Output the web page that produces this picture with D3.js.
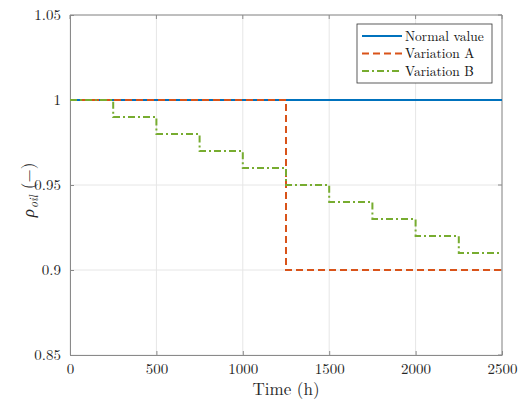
<!DOCTYPE html>
<html><head><meta charset="utf-8">
<script src="https://cdn.jsdelivr.net/npm/d3@7"></script>
<style>body{margin:0;background:#fff}svg{display:block}text{font-family:"Latin Modern Roman","CMU Serif","Liberation Serif","DejaVu Serif",serif}</style>
</head><body><svg id="c" width="520" height="400"></svg>
<script>
const timeNormal = [0, 2500];
const valNormal = [1, 1];
const timeA = [0, 1250, 2500];
const valA = [1, 0.9, 0.9];
const timeB = [0, 250, 500, 750, 1000, 1250, 1500, 1750, 2000, 2250, 2500];
const valB = [1, 0.99, 0.98, 0.97, 0.96, 0.95, 0.94, 0.93, 0.92, 0.91, 0.91];
const xTicks = [0, 500, 1000, 1500, 2000, 2500];
const yTicks = [0.85, 0.9, 0.95, 1, 1.05];
const yTickLabels = ["0.85", "0.9", "0.95", "1", "1.05"];
const seriesNames = ["Normal value", "Variation A", "Variation B"];

const svg = d3.select("#c");
const L = 70, R = 502, T = 15, B = 355;
const x = d3.scaleLinear().domain([0, 2500]).range([L, R]);
const y = d3.scaleLinear().domain([0.85, 1.05]).range([B, T]);
const axisCol = "#8a8a8a";

// grid
const g = svg.append("g");
g.selectAll(".gx").data(xTicks).join("line").attr("x1", d => x(d)).attr("x2", d => x(d))
  .attr("y1", T).attr("y2", B).attr("stroke", "#e6e6e6").attr("stroke-width", 1);
g.selectAll(".gy").data(yTicks).join("line").attr("y1", d => y(d)).attr("y2", d => y(d))
  .attr("x1", L).attr("x2", R).attr("stroke", "#e6e6e6").attr("stroke-width", 1);

// axes
const xa = svg.append("g").attr("transform", `translate(0,${B})`)
  .call(d3.axisBottom(x).tickValues(xTicks).tickFormat(d3.format("d")).tickSizeInner(-4).tickSizeOuter(0).tickPadding(8));
const ya = svg.append("g").attr("transform", `translate(${L},0)`)
  .call(d3.axisLeft(y).tickValues(yTicks).tickFormat((d, i) => yTickLabels[i]).tickSizeInner(-4).tickSizeOuter(0).tickPadding(9));
[xa, ya].forEach(a => {
  a.selectAll("path").attr("stroke", axisCol);
  a.selectAll("line").attr("stroke", axisCol);
  a.selectAll("text").attr("fill", "#262626").style("font-size", "15px");
});
svg.append("line").attr("x1", L).attr("x2", R).attr("y1", T).attr("y2", T).attr("stroke", axisCol);
svg.append("line").attr("x1", R).attr("x2", R).attr("y1", T).attr("y2", B).attr("stroke", axisCol);
// top/right ticks
svg.selectAll(".tt").data(xTicks).join("line").attr("x1", d => x(d)).attr("x2", d => x(d)).attr("y1", T).attr("y2", T + 4).attr("stroke", axisCol);
svg.selectAll(".rt").data(yTicks).join("line").attr("y1", d => y(d)).attr("y2", d => y(d)).attr("x1", R).attr("x2", R - 4).attr("stroke", axisCol);

// lines
const line = d3.line().x(d => x(d[0])).y(d => y(d[1])).curve(d3.curveStepAfter);
const series = [
  {t: timeNormal, v: valNormal, c: "#0072BD", dash: null},
  {t: timeA, v: valA, c: "#D95319", dash: "7,4"},
  {t: timeB, v: valB, c: "#77AC30", dash: "7,3,2,3"}
];
series.forEach(s => {
  svg.append("path").datum(s.t.map((t, i) => [t, s.v[i]])).attr("d", line)
    .attr("fill", "none").attr("stroke", s.c).attr("stroke-width", 2)
    .attr("stroke-dasharray", s.dash);
});

// labels
svg.append("text").attr("x", (L + R) / 2).attr("y", 395).attr("text-anchor", "middle")
  .style("font-size", "17px").attr("fill", "#262626").text("Time (h)");
const yl = svg.append("text").attr("transform", `translate(34,190) rotate(-90)`)
  .attr("text-anchor", "middle").style("font-size", "17px").attr("fill", "#262626");
yl.append("tspan").style("font-style", "italic").text("ρ");
yl.append("tspan").style("font-style", "italic").style("font-size", "12px").attr("dy", 4).attr("dx", 1).text("oil");
yl.append("tspan").attr("dy", -4).attr("dx", 6).text("(−)");

// legend
const lg = svg.append("g");
lg.append("rect").attr("x", 357).attr("y", 24).attr("width", 135).attr("height", 59)
  .attr("fill", "#fff").attr("stroke", "#333").attr("stroke-width", 0.8);
series.forEach((s, i) => {
  const yy = 36 + i * 17.5;
  lg.append("line").attr("x1", 362).attr("x2", 402).attr("y1", yy).attr("y2", yy)
    .attr("stroke", s.c).attr("stroke-width", 2).attr("stroke-dasharray", s.dash);
  lg.append("text").attr("x", 405).attr("y", yy + 4.5).style("font-size", "13.5px").attr("fill", "#111").text(seriesNames[i]);
});
</script></body></html>
